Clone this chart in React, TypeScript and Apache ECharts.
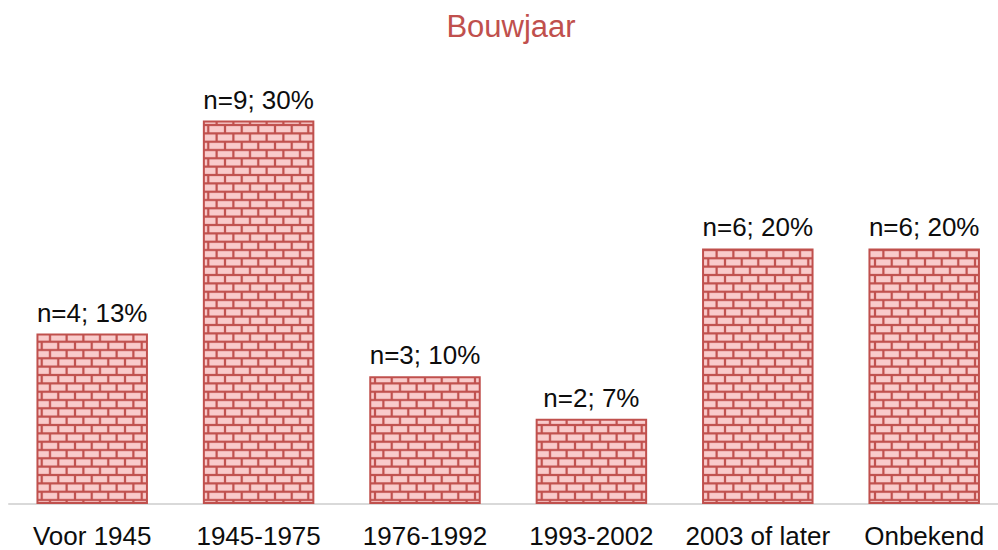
import React, { useEffect, useRef } from "react";
import * as echarts from "echarts";

const categories = ["Voor 1945", "1945-1975", "1976-1992", "1993-2002", "2003 of later", "Onbekend"];
const counts = [4, 9, 3, 2, 6, 6];
const percents = [13, 30, 10, 7, 20, 20];
const titleText = "Bouwjaar";

const MORTAR = "#c0504d";
const BRICK = "#f9cbcb";

function makeBrickPattern() {
  const S = 3; // supersample
  const W = 50, H = 50; // logical tile: 3 bricks wide, 6 rows high
  const c = document.createElement("canvas");
  c.width = W * S;
  c.height = H * S;
  const ctx = c.getContext("2d")!;
  ctx.fillStyle = MORTAR;
  ctx.fillRect(0, 0, c.width, c.height);
  ctx.fillStyle = BRICK;
  const rows = 6;
  const rowH = H / rows;
  const brickW = W / 3;
  const m = 2.2;
  for (let r = 0; r < rows; r++) {
    const off = r % 2 === 0 ? 0 : brickW / 2;
    for (let k = -1; k < 4; k++) {
      const x0 = k * brickW + off + m / 2;
      const y0 = r * rowH + m / 2;
      ctx.fillRect(x0 * S, y0 * S, (brickW - m) * S, (rowH - m) * S);
    }
  }
  return { image: c, repeat: "repeat", scaleX: 1 / S, scaleY: 1 / S } as any;
}

export default function App() {
  const ref = useRef<HTMLDivElement>(null);
  useEffect(() => {
    document.body.style.margin = "0";
    const chart = echarts.init(ref.current!, null, { renderer: "svg" });
    const pattern = makeBrickPattern();
    chart.setOption({
      animation: false,
      textStyle: { fontFamily: "Liberation Sans, Arial, sans-serif" },
      title: {
        text: titleText,
        left: "center",
        top: 6,
        textStyle: { color: MORTAR, fontSize: 31, fontWeight: "normal", fontFamily: "Liberation Sans, Arial, sans-serif" },
      },
      grid: { left: 9, top: 78, width: 998.4, bottom: 46, containLabel: false },
      xAxis: {
        type: "category",
        data: categories,
        axisLine: { show: true, lineStyle: { color: "#d9d9d9", width: 2 } },
        axisTick: { show: false },
        axisLabel: { color: "#0d0d0d", fontSize: 26, margin: 19, interval: 0, fontFamily: "Liberation Sans, Arial, sans-serif" },
      },
      yAxis: { type: "value", min: 0, max: 10, show: false, splitLine: { show: false } },
      series: [
        {
          type: "bar",
          data: counts,
          barCategoryGap: "33%",
          itemStyle: { color: pattern, borderColor: MORTAR, borderWidth: 2 },
          label: {
            show: true,
            position: "top",
            distance: 8,
            color: "#0d0d0d",
            fontSize: 26,
            fontFamily: "Liberation Sans, Arial, sans-serif",
            formatter: (p: any) => `n=${counts[p.dataIndex]}; ${percents[p.dataIndex]}%`,
          },
        },
      ],
    });
    return () => chart.dispose();
  }, []);
  return (
    <div style={{ position: "absolute", left: 0, top: 0, width: 998, height: 550, overflow: "hidden" }}>
      <div ref={ref} style={{ position: "absolute", left: 0, top: 0, width: 1022, height: 550 }} />
    </div>
  );
}
